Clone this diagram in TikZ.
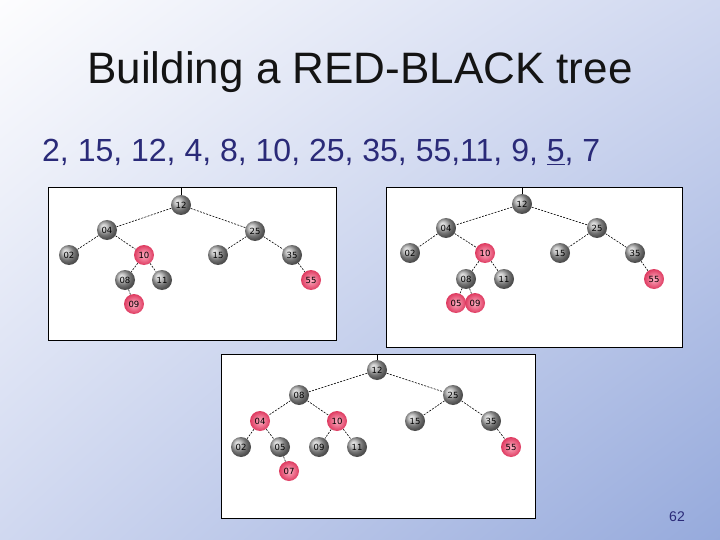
\documentclass[tikz,border=0pt]{standalone}
\usepackage{fontspec}
\usetikzlibrary{shadings}
\setmainfont{Liberation Sans}
\newfontfamily\nodefnt{DejaVu Sans}
\definecolor{bgA}{RGB}{253,253,254}
\definecolor{bgB}{RGB}{208,216,240}
\definecolor{bgC}{RGB}{150,170,220}
\definecolor{subblue}{RGB}{42,42,120}
\definecolor{grayball}{RGB}{170,170,170}
\definecolor{redin}{RGB}{255,175,195}
\definecolor{redout}{RGB}{222,58,96}
\begin{document}
\begin{tikzpicture}[x=1pt,y=-1pt,
  nd/.style={circle, minimum size=20pt, inner sep=0pt, font=\nodefnt\fontsize{8.5}{8.5}\selectfont, text=black},
  bk/.style={nd, ball color=grayball},
  rd/.style={nd, shading=radial, inner color=redin, outer color=redout},
  ed/.style={draw=black, line width=0.6pt, dash pattern=on 2pt off 1.3pt},
  rootln/.style={draw=black, line width=0.7pt},
  panel/.style={draw=black, fill=white, line width=0.8pt}]
\useasboundingbox (0,0) rectangle (720,540);
\shade[upper left=bgA, upper right=bgB, lower left=bgB, lower right=bgC] (0,0) rectangle (720,540);

\node[anchor=base, font=\fontsize{44}{44}\selectfont, text={rgb,255:red,20;green,20;blue,20}] (title) at (360,84) {Building a RED-BLACK tree};
\node[anchor=base west, inner sep=0pt, font=\fontsize{32}{32}\selectfont, text=subblue] (seq) at (42,162) {2, 15, 12, 4, 8, 10, 25, 35, 55,11, 9, \underline{5}, 7};
\node[anchor=base, font=\fontsize{14}{14}\selectfont, text=subblue] (pg) at (677,521) {62};

% ---------- panel 1
\draw[panel] (48,187) rectangle (336,340);
\coordinate (a0) at (181,187);
\node[bk] (a12) at (181,205) {12};
\node[bk] (a04) at (107,230) {04};
\node[bk] (a25) at (255,231) {25};
\node[bk] (a02) at (69,255) {02};
\node[rd] (a10) at (144,255) {10};
\node[bk] (a15) at (218,255) {15};
\node[bk] (a35) at (292,255) {35};
\node[bk] (a08) at (125,280) {08};
\node[bk] (a11) at (162,280) {11};
\node[rd] (a55) at (311,280) {55};
\node[rd] (a09) at (134,304) {09};
\draw[rootln] (a0) -- (a12);
\draw[ed] (a12) -- (a04); \draw[ed] (a12) -- (a25);
\draw[ed] (a04) -- (a02); \draw[ed] (a04) -- (a10);
\draw[ed] (a25) -- (a15); \draw[ed] (a25) -- (a35);
\draw[ed] (a10) -- (a08); \draw[ed] (a10) -- (a11);
\draw[ed] (a35) -- (a55); \draw[ed] (a08) -- (a09);

% ---------- panel 2
\draw[panel] (386,187) rectangle (682,347);
\coordinate (b0) at (522,187);
\node[bk] (b12) at (522,204) {12};
\node[bk] (b04) at (446,228) {04};
\node[bk] (b25) at (597,228) {25};
\node[bk] (b02) at (410,253) {02};
\node[rd] (b10) at (485,253) {10};
\node[bk] (b15) at (560,253) {15};
\node[bk] (b35) at (635,253) {35};
\node[bk] (b08) at (466,279) {08};
\node[bk] (b11) at (504,279) {11};
\node[rd] (b55) at (654,279) {55};
\node[rd] (b05) at (456,303) {05};
\node[rd] (b09) at (475,303) {09};
\draw[rootln] (b0) -- (b12);
\draw[ed] (b12) -- (b04); \draw[ed] (b12) -- (b25);
\draw[ed] (b04) -- (b02); \draw[ed] (b04) -- (b10);
\draw[ed] (b25) -- (b15); \draw[ed] (b25) -- (b35);
\draw[ed] (b10) -- (b08); \draw[ed] (b10) -- (b11);
\draw[ed] (b35) -- (b55);
\draw[ed] (b08) -- (b05); \draw[ed] (b08) -- (b09);

% ---------- panel 3
\draw[panel] (221,354) rectangle (535,518);
\coordinate (c0) at (377,354);
\node[bk] (c12) at (377,370) {12};
\node[bk] (c08) at (299,395) {08};
\node[bk] (c25) at (453,395) {25};
\node[rd] (c04) at (260,421) {04};
\node[rd] (c10) at (337,421) {10};
\node[bk] (c15) at (415,421) {15};
\node[bk] (c35) at (491,421) {35};
\node[bk] (c02) at (241,447) {02};
\node[bk] (c05) at (280,447) {05};
\node[bk] (c09) at (319,447) {09};
\node[bk] (c11) at (357,447) {11};
\node[rd] (c55) at (511,447) {55};
\node[rd] (c07) at (289,471) {07};
\draw[rootln] (c0) -- (c12);
\draw[ed] (c12) -- (c08); \draw[ed] (c12) -- (c25);
\draw[ed] (c08) -- (c04); \draw[ed] (c08) -- (c10);
\draw[ed] (c25) -- (c15); \draw[ed] (c25) -- (c35);
\draw[ed] (c04) -- (c02); \draw[ed] (c04) -- (c05);
\draw[ed] (c10) -- (c09); \draw[ed] (c10) -- (c11);
\draw[ed] (c35) -- (c55); \draw[ed] (c05) -- (c07);
\end{tikzpicture}
\end{document}
